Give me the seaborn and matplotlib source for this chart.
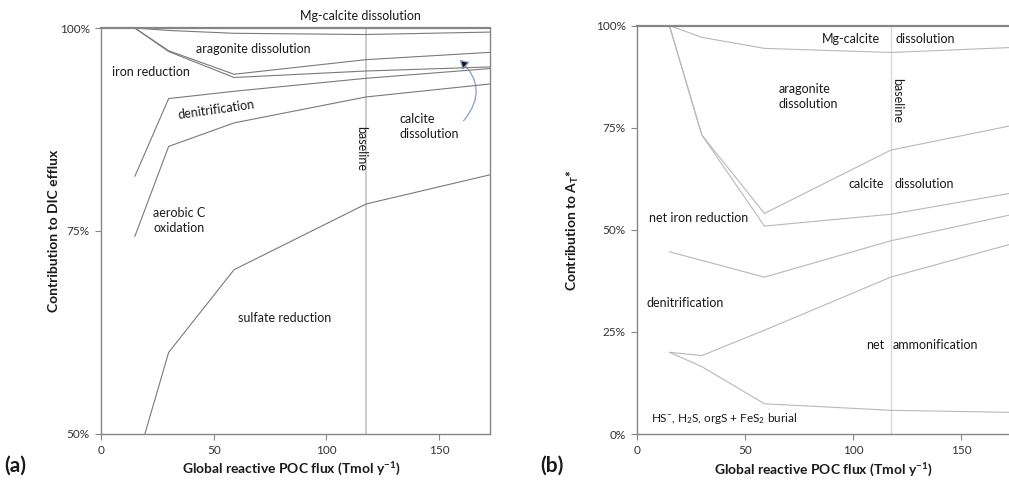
import matplotlib
matplotlib.use("Agg")
import matplotlib.pyplot as plt
import pandas as pd
import seaborn as sns
from matplotlib.patches import FancyArrowPatch
from matplotlib.ticker import PercentFormatter

# --- data ---
FLUX = [15, 30, 59, 117.5, 172.5]          # Tmol/y, kinks of every boundary line
BASELINE_FLUX = 117.5

# (a) lower boundary of each band, % of DIC efflux
DIC_BOUNDS = {
    "mg_calcite": [100, 99.7, 99.35, 99.2, 99.5],
    "aragonite": [100, 97.2, 94.3, 96.1, 97.0],
    "calcite": [100, 97.1, 93.9, 94.7, 95.2],
    "iron_reduction": [81.7, 91.3, 92.2, 93.8, 95.0],
    "denitrification": [74.3, 85.4, 88.3, 91.5, 93.1],
    "aerobic_oxidation": [45.7, 60.0, 70.2, 78.3, 81.9],
}

# (b) lower boundary of each band, % of A_T*
AT_BOUNDS = {
    "mg_calcite": [100, 97.1, 94.4, 93.4, 94.6],
    "aragonite": [100, 73.2, 54.0, 69.5, 75.4],
    "calcite": [100, 73.2, 50.9, 53.8, 58.9],
    "net_iron_reduction": [44.6, 42.5, 38.4, 47.3, 53.6],
    "denitrification": [20.0, 19.2, 25.4, 38.4, 46.4],
    "net_ammonification": [20.0, 16.5, 7.4, 5.8, 5.3],
}

X_TICKS = [0, 50, 100, 150]
Y_TICKS_A = [50, 75, 100]
Y_TICKS_B = [0, 25, 50, 75, 100]
XLABEL = "Global reactive POC flux (Tmol y$^{-1}$)"

AXIS_GREY = "#868686"
TEXT_COL = "#1a1a1a"
FS_NOTE = 9


def to_long(bounds):
    rows = []
    for name, vals in bounds.items():
        for x, v in zip(FLUX, vals):
            rows.append({"flux": x, "share": v, "boundary": name})
    return pd.DataFrame(rows)


def style_axes(ax, yticks, ylim, right_spine=True):
    ax.set_xlim(0, 172.5)
    ax.set_ylim(*ylim)
    ax.set_xticks(X_TICKS)
    ax.set_yticks(yticks)
    ax.yaxis.set_major_formatter(PercentFormatter(decimals=0))
    for side in ["left", "bottom", "top", "right"]:
        ax.spines[side].set_color(AXIS_GREY)
        ax.spines[side].set_linewidth(1.0)
    ax.spines["top"].set_linewidth(1.6)
    ax.spines["right"].set_visible(right_spine)
    ax.tick_params(axis="both", direction="out", length=4, width=0.8,
                   color=AXIS_GREY, labelsize=8.5, labelcolor="#333333",
                   left=True, bottom=True, pad=4)
    ax.grid(False)


sns.set_style("white")
plt.rcParams["font.family"] = ["Lato", "DejaVu Sans"]
plt.rcParams["mathtext.fontset"] = "custom"
plt.rcParams["mathtext.rm"] = "Lato"
plt.rcParams["mathtext.bf"] = "Lato:bold"
plt.rcParams["mathtext.default"] = "regular"

fig = plt.figure(figsize=(10.09, 4.84), dpi=100)
ax_a = fig.add_axes([0.1001, 0.1043, 0.3855, 0.8378])
ax_b = fig.add_axes([0.6313, 0.1033, 0.3693, 0.8440])

# ---------------- panel (a) ----------------
sns.lineplot(data=to_long(DIC_BOUNDS), x="flux", y="share", units="boundary",
             estimator=None, color="#7a7a7a", lw=0.8, ax=ax_a, legend=False)
ax_a.axvline(BASELINE_FLUX, color="#c4c4c4", lw=1.2, zorder=1)
style_axes(ax_a, Y_TICKS_A, (50, 100))
ax_a.set_xlabel(XLABEL, fontsize=10, fontweight="bold", color=TEXT_COL)
ax_a.set_ylabel("Contribution to DIC efflux", fontsize=10, fontweight="bold", color=TEXT_COL)
ax_a.xaxis.set_label_coords(0.49, -0.068)
ax_a.yaxis.set_label_coords(-0.105, 0.5)

ax_a.text(115, 101.5, "Mg-calcite dissolution", ha="center", va="center",
          fontsize=FS_NOTE, color=TEXT_COL, clip_on=False)
ax_a.text(42, 97.4, "aragonite dissolution", ha="left", va="center", fontsize=FS_NOTE, color=TEXT_COL)
ax_a.text(4.7, 94.6, "iron reduction", ha="left", va="center", fontsize=FS_NOTE, color=TEXT_COL)
ax_a.text(51.3, 89.9, "denitrification", ha="center", va="center", rotation=8,
          fontsize=FS_NOTE, color=TEXT_COL)
ax_a.text(132.3, 87.8, "calcite\ndissolution", ha="left", va="center",
          fontsize=FS_NOTE, color=TEXT_COL, linespacing=1.3)
ax_a.text(115.2, 85.1, "baseline", ha="center", va="center", rotation=270,
          fontsize=FS_NOTE, color=TEXT_COL)
ax_a.text(23.2, 76.3, "aerobic C\noxidation", ha="left", va="center",
          fontsize=FS_NOTE, color=TEXT_COL, linespacing=1.3)
ax_a.text(60.6, 64.3, "sulfate reduction", ha="left", va="center", fontsize=FS_NOTE, color=TEXT_COL)

arrow = FancyArrowPatch((160, 88.3), (158.2, 96.3), connectionstyle="arc3,rad=0.5",
                        arrowstyle="-|>,head_length=5,head_width=3",
                        edgecolor="#8a9cc0", facecolor="#111111", lw=0.9)
ax_a.add_patch(arrow)

# ---------------- panel (b) ----------------
sns.lineplot(data=to_long(AT_BOUNDS), x="flux", y="share", units="boundary",
             estimator=None, color="#b8b8b8", lw=0.8, ax=ax_b, legend=False)
ax_b.axvline(BASELINE_FLUX, color="#d9d9d9", lw=1.0, zorder=1)
style_axes(ax_b, Y_TICKS_B, (0, 100), right_spine=False)
ax_b.set_xlabel(XLABEL, fontsize=10, fontweight="bold", color=TEXT_COL)
ax_b.set_ylabel("Contribution to A$_T$*", fontsize=10, fontweight="bold", color=TEXT_COL)
ax_b.xaxis.set_label_coords(0.5, -0.068)
ax_b.yaxis.set_label_coords(-0.15, 0.5)

ax_b.text(112.5, 96.7, "Mg-calcite", ha="right", va="center", fontsize=FS_NOTE, color=TEXT_COL)
ax_b.text(119.8, 96.7, "dissolution", ha="left", va="center", fontsize=FS_NOTE, color=TEXT_COL)
ax_b.text(65.7, 82.5, "aragonite\ndissolution", ha="left", va="center",
          fontsize=FS_NOTE, color=TEXT_COL, linespacing=1.3)
ax_b.text(120.4, 81.7, "baseline", ha="center", va="center", rotation=270,
          fontsize=FS_NOTE, color=TEXT_COL)
ax_b.text(114.4, 61.2, "calcite", ha="right", va="center", fontsize=FS_NOTE, color=TEXT_COL)
ax_b.text(119.0, 61.2, "dissolution", ha="left", va="center", fontsize=FS_NOTE, color=TEXT_COL)
ax_b.text(5.6, 52.8, "net iron reduction", ha="left", va="center", fontsize=FS_NOTE, color=TEXT_COL)
ax_b.text(4.6, 32.0, "denitrification", ha="left", va="center", fontsize=FS_NOTE, color=TEXT_COL)
ax_b.text(114.4, 21.9, "net", ha="right", va="center", fontsize=FS_NOTE, color=TEXT_COL)
ax_b.text(118.5, 21.9, "ammonification", ha="left", va="center", fontsize=FS_NOTE, color=TEXT_COL)
ax_b.text(6.3, 3.8, "HS$^{-}$, H$_2$S, orgS + FeS$_2$ burial", ha="left", va="center",
          fontsize=FS_NOTE - 0.5, color=TEXT_COL)

fig.text(0.004, 0.037, "(a)", fontsize=15, fontweight="bold", color=TEXT_COL, va="center")
fig.text(0.535, 0.037, "(b)", fontsize=15, fontweight="bold", color=TEXT_COL, va="center")

fig.savefig("out.png", dpi=100)
plt.close(fig)
